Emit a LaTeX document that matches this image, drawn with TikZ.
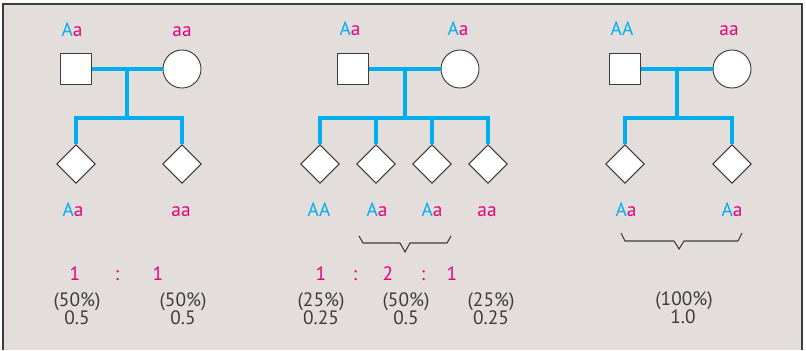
\documentclass[tikz,border=0pt]{standalone}
\usepackage{fontspec}
\setmainfont{PT Sans}
\usetikzlibrary{shapes.geometric,calc}

\definecolor{pedcyan}{HTML}{00AEEF}
\definecolor{pedmag}{HTML}{E6007E}
\definecolor{panelgray}{HTML}{E3DEDC}
\definecolor{framegray}{HTML}{3C3C3C}

\newcommand{\Adom}{\textcolor{pedcyan}{A}}
\newcommand{\arec}{\textcolor{pedmag}{a}}

\tikzset{
    male/.style={rectangle, draw=framegray, fill=white, line width=0.7pt, minimum size=23pt, inner sep=0pt},
    female/.style={circle, draw=framegray, fill=white, line width=0.7pt, minimum size=28.5pt, inner sep=0pt},
    child/.style={diamond, draw=framegray, fill=white, line width=0.7pt, minimum size=29pt, inner sep=0pt},
    geno/.style={anchor=base, inner sep=0pt, font=\fontsize{14.5}{16}\selectfont},
    ratio/.style={geno, text=pedmag},
    pct/.style={geno, text=framegray},
    link/.style={draw=pedcyan, line width=3pt, line join=miter},
    bracket/.style={draw=framegray, line width=0.8pt}
}

\begin{document}
\begin{tikzpicture}[x=0.75pt, y=-0.75pt]

\useasboundingbox (0,0) rectangle (806,350);

% Panel
\fill[panelgray] (3,4) rectangle (802,350);
\draw[framegray, line width=1.5pt] (3,350) -- (3,4) -- (802,4) -- (802,350);

% Cross 1: Aa x aa
\node[male] (m1) at (76,69) {};
\node[female] (f1) at (182,69) {};
\node[child] (c11) at (76,164) {};
\node[child] (c12) at (182,164) {};
\coordinate (d1) at ($(m1.east)!0.5!(f1.west)$);
\draw[link] (m1.east) -- (f1.west);
\draw[link] (d1) -- (d1 |- 0,118);
\draw[link] (c11.north) -- (c11.north |- 0,118) -- (c12.north |- 0,118) -- (c12.north);

\node[geno] (gm1) at (72,36) {\Adom\arec};
\node[geno] (gf1) at (182,36) {\arec\arec};
\node[geno] (g11) at (73,216) {\Adom\arec};
\node[geno] (g12) at (181,216) {\arec\arec};

\node[ratio] (r11) at (75,280) {1};
\node[ratio] (r12) at (117,280) {:};
\node[ratio] (r13) at (158,280) {1};
\node[pct] (p11) at (77,306) {(50\%)};
\node[pct] (v11) at (77,324) {0.5};
\node[pct] (p12) at (183,306) {(50\%)};
\node[pct] (v12) at (183,324) {0.5};

% Cross 2: Aa x Aa
\node[male] (m2) at (353,69) {};
\node[female] (f2) at (460,69) {};
\node[child] (c21) at (320,164) {};
\node[child] (c22) at (376,164) {};
\node[child] (c23) at (432,164) {};
\node[child] (c24) at (488,164) {};
\coordinate (d2) at ($(m2.east)!0.5!(f2.west)$);
\draw[link] (m2.east) -- (f2.west);
\draw[link] (d2) -- (d2 |- 0,118);
\draw[link] (c21.north) -- (c21.north |- 0,118) -- (c24.north |- 0,118) -- (c24.north);
\draw[link] (c22.north) -- (c22.north |- 0,118);
\draw[link] (c23.north) -- (c23.north |- 0,118);

\node[geno] (gm2) at (350,35) {\Adom\arec};
\node[geno] (gf2) at (458,35) {\Adom\arec};
\node[geno] (g21) at (319,216) {\Adom\Adom};
\node[geno] (g22) at (377,216) {\Adom\arec};
\node[geno] (g23) at (432,216) {\Adom\arec};
\node[geno] (g24) at (487,216) {\arec\arec};

\draw[bracket] (359,236) -- (363,243) -- (400,243) -- (405,252) -- (410,243) -- (447,243) -- (451,236);

\node[ratio] (r21) at (321,280) {1};
\node[ratio] (r22) at (355,280) {:};
\node[ratio] (r23) at (388,280) {2};
\node[ratio] (r24) at (423,280) {:};
\node[ratio] (r25) at (452,280) {1};
\node[pct] (p21) at (321,306) {(25\%)};
\node[pct] (v21) at (321,324) {0.25};
\node[pct] (p22) at (406,306) {(50\%)};
\node[pct] (v22) at (406,324) {0.5};
\node[pct] (p23) at (491,306) {(25\%)};
\node[pct] (v23) at (491,324) {0.25};

% Cross 3: AA x aa
\node[male] (m3) at (625,69) {};
\node[female] (f3) at (732,69) {};
\node[child] (c31) at (625,164) {};
\node[child] (c32) at (732,164) {};
\coordinate (d3) at ($(m3.east)!0.5!(f3.west)$);
\draw[link] (m3.east) -- (f3.west);
\draw[link] (d3) -- (d3 |- 0,118);
\draw[link] (c31.north) -- (c31.north |- 0,118) -- (c32.north |- 0,118) -- (c32.north);

\node[geno] (gm3) at (622,35) {\Adom\Adom};
\node[geno] (gf3) at (729,35) {\arec\arec};
\node[geno] (g31) at (626,216) {\Adom\arec};
\node[geno] (g32) at (732,216) {\Adom\arec};

\draw[bracket] (621,233) -- (625,241) -- (674,241) -- (679,249) -- (684,241) -- (738,241) -- (742,233);

\node[pct] (p31) at (684,305) {(100\%)};
\node[pct] (v31) at (683,323) {1.0};

\end{tikzpicture}
\end{document}
